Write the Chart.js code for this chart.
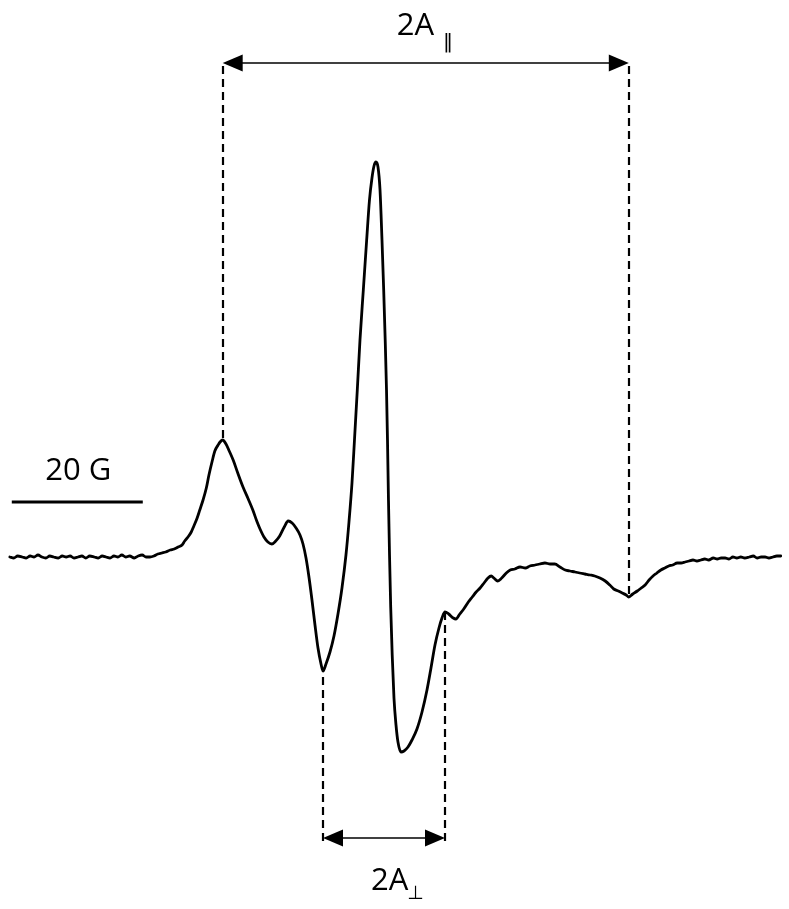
<!DOCTYPE html>
<html><head><meta charset="utf-8">
<script src="https://cdn.jsdelivr.net/npm/chart.js@4.4.1/dist/chart.umd.min.js"></script>
<style>html,body{margin:0;padding:0;background:#fff;}#wrap{width:789px;height:909px;position:relative;}</style>
</head><body><div id="wrap"><canvas id="c"></canvas></div>
<script>
// Magnetic field offset (G) and first-derivative EPR intensity (a.u.)
const fieldG = [1.5,2.1,2.7,3.4,4.0,4.6,5.2,5.8,6.4,7.0,7.6,8.2,8.9,9.5,10.1,10.7,11.3,11.9,12.5,13.1,13.7,14.4,15.0,15.6,16.2,16.8,17.4,18.0,18.6,19.2,19.8,20.5,21.1,21.7,22.3,22.9,
23.5,24.1,24.7,25.3,26.0,26.6,27.2,27.8,28.2,28.7,29.2,29.6,30.1,30.5,31.0,31.5,31.9,32.4,32.8,33.3,33.6,34.0,34.5,35.0,35.6,36.3,37.1,37.9,38.6,39.2,39.7,40.3,40.9,41.5,42.1,42.7,43.4,44.0,44.6,45.2,45.8,
46.26,46.72,47.17,47.63,48.09,48.55,49.01,49.31,49.77,50.38,50.99,51.60,52.21,52.82,53.28,53.74,54.12,54.55,54.96,55.47,55.98,56.41,56.79,57.10,57.40,57.71,
58.02,58.32,58.58,58.81,59.01,59.16,59.31,59.47,59.65,59.88,60.15,60.46,60.76,61.22,61.68,62.29,62.90,63.66,64.43,65.19,65.80,66.41,67.02,67.48,67.94,
68.5,69.2,69.6,70.2,70.8,71.5,72.1,72.7,73.3,73.9,74.5,75.0,75.4,76.0,76.6,77.3,77.9,78.6,79.4,80.2,80.9,81.7,82.4,83.2,84.0,84.7,85.5,86.3,87.0,87.8,88.5,89.3,90.1,90.8,91.6,92.4,93.1,93.7,94.4,95.0,95.6,96.0,96.6,97.3,97.9,98.5,99.1,99.7,100.3,100.9,101.5,102.1,102.7,103.4,104.0,104.6,105.2,105.8,106.4,107.0,107.6,108.2,108.9,109.5,110.1,110.7,111.3,111.9,112.5,113.1,113.7,114.4,115.0,115.6,116.2,116.8,117.4,118.0,118.6,119.2];
const intensity = [0,-1,1,0,-1,1,0,2,0,-1,1,0,-1,1,0,1,-1,0,1,-1,1,0,-1,1,0,-1,1,0,2,0,1,-1,1,2,0,0,
1,3,4,5,7,8,10,12,16,20,25,31,39,47,57,69,82,96,106,112,115,117,113,106,97,84,70,58,47,36,28,20,15,13,16,21,30,36,34,29,22,
13,-1,-20,-43,-68,-91,-107,-114,-107,-95,-79,-57,-31,2,35,74,117,167,217,267,317,357,379,391,395,390,
367,317,267,217,167,117,57,2,-50,-98,-141,-168,-185,-195,-194,-190,-183,-172,-155,-133,-111,-88,-71,-61,-55,
-57,-61,-62,-57,-52,-45,-40,-35,-31,-26,-21,-19,-21,-24,-21,-16,-13,-12,-10,-11,-9,-8,-7,-6,-7,-7,-10,-13,-14,-15,-16,-17,-18,-19,-21,-24,-28,-32,-34,-36,-38,-40,-37,-34,-31,-28,-23,-19,-16,-13,-11,-9,-8,-6,-6,-5,-4,-3,-4,-3,-2,-3,-1,-2,-1,-1,-2,0,-1,0,-1,0,1,-1,0,0,-1,0,1,1];

// Hyperfine splitting markers (G) and arrow levels (a.u.)
const parallelMarks = [34.0, 96.0];
const perpMarks = [49.31, 67.94];
const parallelArrowLevel = 494;
const perpArrowLevel = -281;
// Scale bar
const scaleBarStart = 1.8, scaleBarLength = 20, scaleBarLevel = 55;
const parallelLabel = ['2A', '‖'];
const perpLabel = ['2A', '⊥'];
const scaleLabel = '20 G';

const points = fieldG.map((f, i) => ({x: f, y: intensity[i]}));

function valueAt(f) {
  for (let i = 0; i < fieldG.length - 1; i++) {
    if (f >= fieldG[i] && f <= fieldG[i + 1]) {
      const t = (f - fieldG[i]) / (fieldG[i + 1] - fieldG[i] || 1);
      return intensity[i] + t * (intensity[i + 1] - intensity[i]);
    }
  }
  return 0;
}

function arrowHead(ctx, tipX, y, dir) {
  ctx.beginPath();
  ctx.moveTo(tipX, y);
  ctx.lineTo(tipX + dir * 20, y - 8.5);
  ctx.lineTo(tipX + dir * 20, y + 8.5);
  ctx.closePath();
  ctx.fill();
}

const annot = {
  id: 'annot',
  afterDatasetsDraw(chart) {
    const ctx = chart.ctx, xs = chart.scales.x, ys = chart.scales.y;
    ctx.save();
    ctx.strokeStyle = '#000'; ctx.fillStyle = '#000';
    // dashed guide lines
    ctx.lineWidth = 2.2; ctx.setLineDash([8, 5]);
    const guides = [[parallelMarks, parallelArrowLevel], [perpMarks, perpArrowLevel]];
    guides.forEach(([marks, lvl]) => {
      marks.forEach(f => {
        const px = Math.round(xs.getPixelForValue(f));
        ctx.beginPath();
        ctx.moveTo(px, ys.getPixelForValue(lvl) + 3);
        ctx.lineTo(px, ys.getPixelForValue(valueAt(f)));
        ctx.stroke();
      });
    });
    ctx.setLineDash([]);
    // arrows
    guides.forEach(([marks, lvl]) => {
      const x1 = xs.getPixelForValue(marks[0]), x2 = xs.getPixelForValue(marks[1]);
      const y = ys.getPixelForValue(lvl);
      ctx.lineWidth = 1.6;
      ctx.beginPath(); ctx.moveTo(x1 + 10, y); ctx.lineTo(x2 - 10, y); ctx.stroke();
      arrowHead(ctx, x1, y, 1); arrowHead(ctx, x2, y, -1);
    });
    // labels
    ctx.textBaseline = 'alphabetic'; ctx.textAlign = 'left';
    const yTop = ys.getPixelForValue(parallelArrowLevel);
    const cTop = (xs.getPixelForValue(parallelMarks[0]) + xs.getPixelForValue(parallelMarks[1])) / 2;
    ctx.font = '31px "Open Sans", "DejaVu Sans", sans-serif';
    const wTop = ctx.measureText(parallelLabel[0]).width;
    ctx.fillText(parallelLabel[0], cTop - 29, yTop - 28);
    ctx.font = '20px "DejaVu Sans", sans-serif';
    ctx.fillText(parallelLabel[1], cTop - 29 + wTop + 9, yTop - 15);

    const yBot = ys.getPixelForValue(perpArrowLevel);
    const cBot = (xs.getPixelForValue(perpMarks[0]) + xs.getPixelForValue(perpMarks[1])) / 2;
    ctx.font = '31px "Open Sans", "DejaVu Sans", sans-serif';
    const wBot = ctx.measureText(perpLabel[0]).width;
    ctx.fillText(perpLabel[0], cBot - 13, yBot + 52);
    ctx.font = '19px "DejaVu Sans", sans-serif';
    ctx.fillText(perpLabel[1], cBot - 13 + wBot - 1, yBot + 61);

    // scale bar
    const sx1 = xs.getPixelForValue(scaleBarStart), sx2 = xs.getPixelForValue(scaleBarStart + scaleBarLength);
    const sy = ys.getPixelForValue(scaleBarLevel);
    ctx.lineWidth = 3;
    ctx.beginPath(); ctx.moveTo(sx1, sy); ctx.lineTo(sx2, sy); ctx.stroke();
    ctx.font = '31px "Open Sans", "DejaVu Sans", sans-serif';
    ctx.textAlign = 'center';
    ctx.fillText(scaleLabel, (sx1 + sx2) / 2 + 1, sy - 22);
    ctx.restore();
  }
};

new Chart(document.getElementById('c'), {
  type: 'line',
  data: { datasets: [{ data: points, borderColor: '#000', borderWidth: 2.8, pointRadius: 0, cubicInterpolationMode: 'monotone', fill: false, borderJoinStyle: 'round', borderCapStyle: 'round' }] },
  options: {
    responsive: true, maintainAspectRatio: false, animation: false,
    layout: { padding: 0 },
    plugins: { legend: { display: false }, tooltip: { enabled: false } },
    scales: {
      x: { type: 'linear', display: false, min: 0, max: 120.46 },
      y: { type: 'linear', display: false, min: -352, max: 557 }
    }
  },
  plugins: [annot]
});
</script></body></html>
